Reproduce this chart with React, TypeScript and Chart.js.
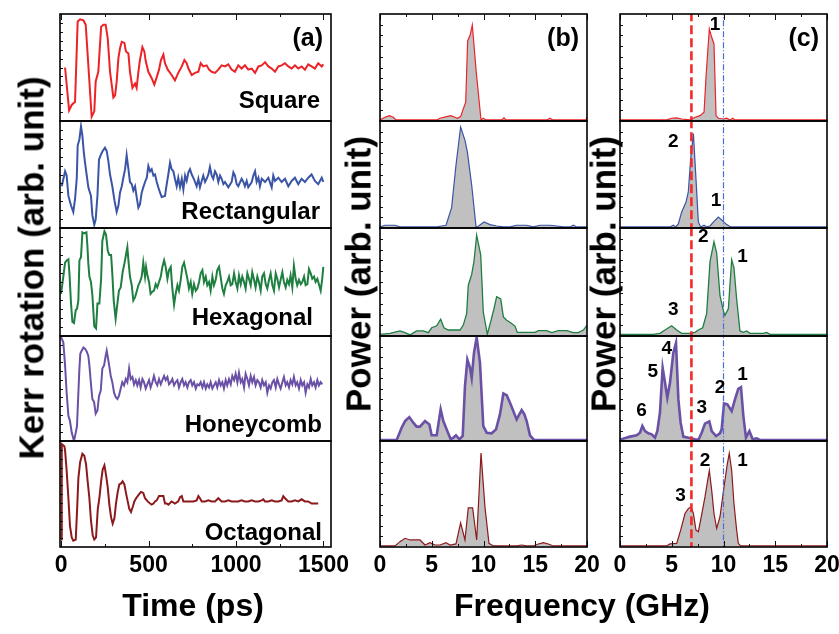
import React, { useEffect, useRef } from "react";
import { Chart, registerables } from "chart.js";
Chart.register(...registerables);

type Pt = [number, number];
const FONT = '"Liberation Sans", Arial, Helvetica, sans-serif';

// ---------- time-domain traces (ps, arb. unit) ----------
const squareTrace: Pt[] = [[23,50],[46,10],[61,15],[80,18],[95,93],[109,95],[128,94],[141,90],[175,4],[190,9],[198,37],[213,46],[229,88],[242,90],[255,90],[267,77],[280,46],[299,22],[309,24],[318,37],[328,59],[337,68],[347,74],[362,73],[371,65],[385,63],[394,46],[408,31],[423,35],[432,31],[442,46],[451,57],[465,69],[476,65],[484,56],[499,46],[518,40],[533,34],[547,41],[560,48],[571,57],[585,62],[594,54],[610,48],[632,43],[651,38],[670,45],[690,51],[705,57],[718,54],[728,49],[747,43],[766,45],[785,46],[798,54],[813,51],[832,52],[846,48],[861,46],[880,45],[899,48],[918,52],[937,51],[956,53],[975,48],[994,46],[1013,52],[1032,49],[1051,52],[1070,48],[1090,49],[1109,45],[1128,51],[1147,52],[1166,55],[1185,51],[1204,49],[1223,46],[1242,51],[1261,52],[1280,54],[1299,51],[1318,49],[1337,52],[1356,49],[1375,51],[1394,48],[1413,53],[1432,51],[1451,49],[1470,54],[1490,51],[1499,53]];
const rectTrace: Pt[] = [[4,39],[23,53],[32,49],[42,30],[57,21],[70,15],[80,27],[90,47],[95,77],[105,83],[114,95],[122,86],[130,71],[137,61],[147,49],[156,38],[171,30],[179,12],[190,3],[198,8],[208,30],[217,64],[229,69],[238,72],[251,75],[261,72],[270,63],[280,50],[293,39],[305,26],[318,15],[328,21],[337,33],[347,39],[356,47],[366,55],[375,68],[385,55],[394,43],[404,41],[413,35],[423,39],[432,29],[442,19],[451,22],[461,33],[470,38],[480,43],[490,47],[499,58],[509,53],[518,55],[528,49],[537,50],[547,43],[556,38],[566,33],[575,29],[594,30],[604,41],[613,50],[623,61],[632,55],[642,53],[651,46],[661,39],[670,47],[680,38],[690,46],[699,36],[709,49],[718,44],[728,52],[737,55],[747,50],[756,47],[766,43],[775,39],[785,46],[794,38],[804,44],[813,49],[823,43],[832,46],[842,50],[851,57],[861,49],[870,46],[880,53],[890,50],[899,43],[909,49],[918,46],[928,41],[937,43],[956,38],[975,43],[985,52],[994,49],[1004,41],[1013,39],[1032,46],[1042,43],[1051,39],[1061,44],[1070,38],[1090,43],[1099,49],[1109,53],[1118,43],[1128,47],[1137,39],[1147,46],[1166,43],[1185,47],[1204,38],[1213,49],[1223,44],[1242,47],[1261,43],[1280,46],[1299,39],[1318,44],[1337,47],[1356,41],[1375,46],[1394,43],[1413,47],[1432,50],[1451,44],[1470,41],[1490,47],[1499,43]];
const hexTrace: Pt[] = [[0,39],[13,55],[23,68],[32,70],[42,71],[48,58],[57,30],[65,13],[74,12],[84,24],[91,25],[99,33],[105,70],[114,73],[122,96],[133,95],[145,96],[150,85],[156,67],[162,55],[171,50],[179,38],[190,9],[200,7],[208,30],[219,30],[229,53],[236,88],[248,97],[257,94],[267,79],[276,75],[286,75],[293,58],[301,33],[312,16],[322,30],[331,42],[341,45],[352,59],[362,67],[371,75],[379,82],[385,70],[394,55],[404,47],[413,33],[423,36],[432,41],[442,47],[451,50],[461,55],[470,68],[480,55],[486,64],[495,55],[503,50],[512,39],[522,41],[531,42],[541,48],[550,45],[560,50],[570,55],[579,64],[589,70],[598,64],[608,53],[617,61],[627,64],[636,44],[646,29],[655,39],[665,47],[674,42],[684,52],[693,64],[703,68],[712,61],[722,53],[731,44],[741,50],[750,39],[760,48],[770,42],[779,44],[789,50],[798,58],[808,61],[817,50],[827,55],[836,47],[846,50],[855,42],[865,55],[874,47],[884,52],[893,61],[903,64],[912,55],[922,44],[931,39],[941,47],[950,50],[960,55],[970,47],[979,48],[989,58],[998,50],[1008,44],[1017,56],[1027,48],[1036,55],[1046,50],[1055,44],[1065,58],[1074,53],[1084,47],[1093,59],[1103,52],[1112,45],[1122,55],[1131,50],[1141,42],[1150,55],[1160,58],[1170,48],[1179,44],[1189,52],[1198,58],[1208,47],[1217,42],[1227,58],[1236,53],[1246,45],[1255,52],[1265,59],[1274,50],[1284,45],[1293,52],[1303,48],[1312,56],[1322,45],[1331,65],[1341,53],[1350,47],[1360,52],[1370,48],[1379,50],[1389,55],[1398,47],[1408,48],[1417,62],[1427,58],[1436,53],[1446,55],[1455,50],[1465,53],[1474,48],[1484,42],[1493,53],[1499,64]];
const honeyTrace: Pt[] = [[0,99],[13,94],[23,72],[32,46],[42,24],[51,19],[61,8],[74,0],[84,8],[91,14],[99,46],[105,69],[110,83],[118,86],[128,89],[137,88],[147,85],[156,81],[162,72],[170,56],[179,40],[189,37],[198,26],[208,29],[217,43],[227,48],[236,69],[246,72],[255,81],[261,86],[267,80],[274,73],[284,62],[293,56],[303,46],[312,42],[322,40],[331,43],[341,50],[350,56],[360,53],[370,59],[379,56],[389,69],[398,59],[408,61],[417,54],[427,58],[436,53],[446,58],[455,51],[465,59],[474,56],[484,50],[493,54],[503,58],[512,51],[522,56],[531,62],[541,56],[550,53],[560,59],[570,54],[579,58],[589,62],[598,58],[608,61],[617,54],[627,56],[636,59],[646,53],[655,56],[665,58],[674,51],[684,56],[693,59],[703,53],[712,56],[722,51],[731,56],[741,58],[750,53],[760,56],[770,50],[779,54],[789,53],[798,56],[808,51],[817,56],[827,50],[836,54],[846,51],[855,56],[865,50],[874,53],[884,56],[893,51],[903,58],[912,53],[922,56],[931,50],[941,58],[950,53],[960,59],[970,54],[979,62],[989,58],[998,64],[1008,56],[1017,65],[1027,56],[1036,59],[1046,51],[1055,64],[1065,59],[1074,53],[1084,62],[1093,56],[1103,61],[1112,53],[1122,58],[1131,56],[1141,51],[1150,58],[1160,53],[1170,56],[1179,46],[1189,53],[1198,50],[1208,56],[1217,58],[1227,51],[1236,59],[1246,54],[1255,50],[1265,56],[1274,61],[1284,53],[1293,56],[1303,51],[1312,58],[1322,54],[1331,61],[1341,53],[1350,56],[1360,50],[1370,58],[1379,53],[1389,56],[1398,46],[1408,54],[1417,51],[1427,59],[1436,53],[1446,56],[1455,51],[1465,58],[1474,53],[1484,56],[1493,54]];
const octTrace: Pt[] = [[0,7],[4,97],[19,95],[23,91],[32,72],[42,46],[51,20],[61,9],[70,6],[84,7],[93,40],[99,65],[109,80],[122,88],[133,86],[143,78],[152,62],[162,46],[171,25],[181,11],[190,7],[200,9],[210,36],[219,46],[229,62],[238,73],[248,77],[257,68],[267,56],[276,40],[286,28],[295,22],[305,27],[314,41],[324,52],[333,59],[343,60],[352,62],[362,59],[371,51],[381,43],[390,36],[400,33],[410,38],[419,43],[429,46],[442,49],[457,52],[470,51],[480,46],[495,43],[509,41],[518,40],[528,41],[537,43],[547,44],[560,48],[571,48],[585,48],[594,41],[604,41],[613,40],[632,43],[651,41],[670,43],[680,47],[690,48],[699,43],[718,43],[737,43],[756,43],[775,44],[785,48],[794,46],[804,43],[823,43],[842,44],[861,43],[880,43],[899,46],[918,43],[937,43],[956,44],[975,43],[994,43],[1013,43],[1032,44],[1051,43],[1070,43],[1090,44],[1109,43],[1128,43],[1147,44],[1156,45],[1166,43],[1185,43],[1204,44],[1223,43],[1242,43],[1261,44],[1270,48],[1280,46],[1299,43],[1318,43],[1337,44],[1356,43],[1375,45],[1394,43],[1413,43],[1432,41],[1451,41],[1470,41]];

// ---------- spectra (b) (GHz, arb. unit) ----------
const bSquare: Pt[] = [[0,0],[0.48,2.5],[0.9,4.1],[1.29,2.5],[1.55,0],[5.48,0],[5.8,1.6],[6.44,3.1],[6.83,4.1],[7.25,2.5],[7.47,1.6],[7.79,3.1],[7.99,8.8],[8.28,16.7],[8.47,74.8],[8.7,79.6],[8.92,89.6],[9.3,45],[9.76,0],[9.98,1.6],[10.24,0],[11.76,0],[11.98,1.9],[12.17,0],[16.1,0],[16.43,1.6],[16.68,0],[19.9,0],[20,2.5]];
const bRect: Pt[] = [[0,0],[0.48,1.6],[0.97,1.6],[1.45,1.6],[1.93,0],[5.48,0],[5.96,0.9],[6.38,1.6],[6.92,18.2],[7.34,58.2],[7.79,94.3],[8.21,81.8],[8.44,70.8],[8.86,39.3],[9.28,0],[9.4,0],[10.05,4.7],[10.63,2.2],[11.27,0.9],[11.92,0],[12.56,0],[13.2,1.6],[14.17,1.6],[14.81,0],[15.46,1.6],[16.43,1.6],[17.07,0.9],[17.71,0],[18.36,0],[18.68,1.6],[19.0,0],[20,0]];
const bHex: Pt[] = [[0,0.6],[0.97,1.5],[1.93,3.7],[2.42,2.1],[2.9,0],[3.54,3.7],[4.19,3.7],[4.67,2.1],[4.99,6.7],[5.48,8.6],[5.86,14.7],[6.18,6.7],[6.6,4.6],[7.09,4.6],[7.73,4.6],[8.05,9.2],[8.37,19.9],[8.53,46.5],[8.86,56.6],[9.08,68.8],[9.34,93.3],[9.73,74.9],[9.98,21.4],[10.37,0.6],[10.69,12.2],[11.01,24.5],[11.27,35.8],[11.66,33.6],[11.92,16.8],[12.24,13.8],[12.72,10.7],[13.04,8.3],[13.27,2.4],[14.17,2.4],[14.98,2.4],[15.3,4.0],[16.1,4.0],[16.59,2.1],[17.23,4.0],[18.04,4.0],[18.68,2.1],[19.16,2.1],[19.65,4.6],[20,9.2]];
const bHoney: Pt[] = [[0,0],[1.61,0],[2.09,11.8],[2.42,18.2],[2.83,22],[3.22,16.6],[3.54,12.8],[3.86,12.8],[4.35,18.2],[4.77,15],[4.99,4.5],[5.48,4.5],[5.86,29.4],[6.12,18.2],[6.44,10.2],[6.83,0.6],[7.09,2.2],[7.34,4.5],[7.67,0.6],[7.99,3.8],[8.21,51.8],[8.44,77.3],[8.7,69.3],[8.86,59.7],[9.08,83.7],[9.34,98.7],[9.66,74.1],[9.98,13.4],[10.31,7],[10.79,6.4],[11.21,10.2],[11.59,24.6],[11.92,44.7],[12.24,43.1],[12.56,35.8],[12.88,27.8],[13.2,19.8],[13.46,24.6],[13.69,28.8],[13.95,24.6],[14.17,18.2],[14.49,4.5],[14.88,0],[20,0]];
const bOct: Pt[] = [[0,0],[1.45,0],[1.93,4.1],[2.42,7.3],[2.9,5.7],[3.86,5.7],[4.35,0.9],[4.83,3.2],[5.31,0.9],[5.8,0.9],[6.38,3.2],[6.76,0.9],[7.34,1.9],[7.79,22.1],[8.21,5.7],[8.53,36.3],[8.95,36.3],[9.34,5.7],[9.76,88.6],[10.14,37.2],[10.53,2.5],[10.95,0],[13.2,0],[13.69,0.9],[14.17,0],[14.81,0],[15.3,1.9],[15.78,3.2],[16.26,1.9],[16.75,0],[20,0]];

// ---------- spectra (c) ----------
const cSquare: Pt[] = [[0,0],[4.51,0],[4.99,1.6],[5.48,1.9],[5.96,0.9],[6.76,0],[7.25,2.5],[7.73,4.1],[8.12,7.2],[8.31,40.3],[8.44,59.1],[8.63,85.8],[8.86,78],[9.08,71.7],[9.28,4.1],[9.5,1.6],[9.98,0.9],[10.31,1.6],[10.63,0],[10.89,1.6],[11.11,0],[20,0]];
const cRect: Pt[] = [[0,0],[4.83,0],[5.15,1.6],[5.41,0],[5.64,3.1],[5.96,14.2],[6.38,23.6],[6.6,33],[6.83,64.5],[7.09,88.1],[7.34,45.6],[7.57,4.7],[7.79,0],[8.12,1.6],[8.37,0],[8.7,0.9],[9.08,5.3],[9.5,9.4],[9.98,5.3],[10.31,2.2],[10.69,0],[20,0]];
const cHex: Pt[] = [[0,0.6],[3.22,0.6],[3.86,1.5],[4.35,4.6],[4.99,8.6],[5.48,4.6],[5.96,1.5],[6.76,1.5],[7.25,2.4],[7.57,4.6],[7.99,6.7],[8.37,19.9],[8.7,68.8],[9.08,87.2],[9.34,76.5],[9.66,36.7],[9.98,22.9],[10.14,18.3],[10.47,24.5],[10.79,70.3],[11.01,62.7],[11.27,33.6],[11.59,3.7],[11.92,2.4],[12.24,3.7],[12.56,1.5],[13.2,1.5],[13.85,1.5],[14.17,2.4],[14.49,0.6],[20,0.6]];
const cHoney: Pt[] = [[0,0],[0.32,1.3],[0.97,3.2],[1.61,4.5],[1.93,7],[2.16,13.4],[2.42,8.6],[2.74,6.4],[3.06,5.4],[3.38,2.2],[3.61,8.6],[3.86,26.2],[4.12,69.3],[4.35,55],[4.57,40.6],[4.83,55],[5.15,83.7],[5.41,93.3],[5.64,39],[5.86,16.6],[6.12,3.2],[6.6,2.2],[6.92,1.3],[7.25,0.6],[7.57,0],[7.89,7],[8.21,15.7],[8.63,17.9],[8.86,8.6],[9.28,3.8],[9.66,6.4],[9.82,10.2],[10.05,35.1],[10.37,34.2],[10.79,27.8],[11.11,39],[11.43,49.2],[11.69,50.8],[11.92,23],[12.17,2.2],[12.5,8.6],[12.82,0.6],[13.2,1.6],[13.53,0],[20,0]];
const cOct: Pt[] = [[0,0],[4.51,0],[4.83,1.9],[5.48,2.5],[5.86,15.1],[6.28,30.9],[6.6,35.6],[6.86,37.2],[7.09,30.9],[7.34,15.1],[7.57,13.6],[7.79,24.6],[8.21,46.7],[8.63,71.9],[8.86,53],[9.08,30.9],[9.34,16.7],[9.66,27.8],[10.05,56.2],[10.37,78.2],[10.56,88.3],[10.79,71.9],[11.01,40.4],[11.27,15.1],[11.43,2.5],[11.66,0],[20,0]];

// peak labels (c): [text, GHz, arb]
const cSquareLabels: [string, number, number][] = [["1", 9.18, 90]];
const cRectLabels: [string, number, number][] = [["2", 5.15, 80], ["1", 9.28, 25]];
const cHexLabels: [string, number, number][] = [["2", 8.05, 92], ["1", 11.85, 73], ["3", 5.15, 24]];
const cHoneyLabels: [string, number, number][] = [["6", 2.09, 28], ["5", 3.16, 66], ["4", 4.51, 88], ["3", 7.89, 31], ["2", 9.66, 50], ["1", 11.85, 63]];
const cOctLabels: [string, number, number][] = [["3", 5.86, 48], ["2", 8.21, 81], ["1", 11.85, 81]];

const sampleNames = ["Square", "Rectangular", "Hexagonal", "Honeycomb", "Octagonal"];
const timeTicks = [0, 500, 1000, 1500];
const timeMinor = [250, 750, 1250];
const freqTicks = [0, 5, 10, 15, 20];
const freqMinor = [2.5, 7.5, 12.5, 17.5];
const redLineGHz = 6.9;
const blueLineGHz = 10;

// ---------- styling / layout ----------
const traceColors = ["#ec2327", "#3a55a6", "#1e7f40", "#6a51a6", "#8c1a1d"];
const specWidths = [1.2, 1.2, 1.3, 2.6, 1.2];
const FILL = "#c0c0c0";
const COLS = [
  { left: 60, right: 331, min: -6, max: 1543 },
  { left: 380, right: 587, min: 0, max: 20 },
  { left: 620, right: 827, min: 0, max: 20 },
];
const ROWS = [14, 121, 228, 336, 441, 547];
const PAD_L = 30, PAD_R = 30, PAD_T = 3, PAD_B = 3, AXIS_H = 40;
const nameOffsets = [[11, 13], [11, 9], [18, 11], [9, 9], [9, 7]];

const toXY = (a: Pt[]) => a.map(([x, y]) => ({ x, y }));

const panelDecor = {
  id: "panelDecor",
  afterDatasetsDraw(chart: any, _args: any, o: any) {
    const { ctx, chartArea: a, scales } = chart;
    const xs = scales.x, ys = scales.y;
    ctx.save();
    ctx.strokeStyle = "#111";
    ctx.lineWidth = 1;
    const n = o.yTicks;
    for (let i = 1; i < n; i++) {
      const yy = Math.round(a.bottom - ((a.bottom - a.top) * i) / n) + 0.5;
      ctx.beginPath(); ctx.moveTo(a.left, yy); ctx.lineTo(a.left + 3, yy); ctx.stroke();
    }
    const drawX = (vals: number[], len: number) => {
      for (const v of vals) {
        const px = Math.round(xs.getPixelForValue(v)) + 0.5;
        if (o.bottomTicks) { ctx.beginPath(); ctx.moveTo(px, a.bottom); ctx.lineTo(px, a.bottom - len); ctx.stroke(); }
        if (o.topTicks) { ctx.beginPath(); ctx.moveTo(px, a.top); ctx.lineTo(px, a.top + len); ctx.stroke(); }
      }
    };
    drawX(o.major, 6);
    drawX(o.minor, 3);
    ctx.lineWidth = 1.6;
    ctx.strokeStyle = "#000";
    ctx.strokeRect(a.left, a.top, a.right - a.left, a.bottom - a.top);
    ctx.fillStyle = "#000";
    ctx.font = `bold 19px ${FONT}`;
    ctx.textAlign = "center";
    ctx.textBaseline = "middle";
    for (const l of o.peaks) ctx.fillText(l[0], xs.getPixelForValue(l[1]), ys.getPixelForValue(l[2]));
    if (o.name) {
      ctx.font = `bold 24px ${FONT}`;
      ctx.textAlign = "right";
      ctx.textBaseline = "alphabetic";
      ctx.fillText(o.name, a.right - o.nameDx, a.bottom - o.nameDy);
    }
    if (o.tag) {
      ctx.font = `bold 25px ${FONT}`;
      ctx.textAlign = "right";
      ctx.textBaseline = "alphabetic";
      ctx.fillText(o.tag, a.right - 8, a.top + 32);
    }
    ctx.restore();
  },
};

function Panel({ col, row }: { col: number; row: number }) {
  const ref = useRef<HTMLCanvasElement>(null);
  const c = COLS[col];
  const top = ROWS[row], bottom = ROWS[row + 1];
  const isBottom = row === 4;
  const w = c.right - c.left + PAD_L + PAD_R;
  const h = bottom - top + PAD_T + PAD_B + (isBottom ? AXIS_H : 0);

  useEffect(() => {
    const color = traceColors[row];
    let datasets: any[] = [];
    let peaks: [string, number, number][] = [];
    if (col === 0) {
      const tr = [squareTrace, rectTrace, hexTrace, honeyTrace, octTrace][row];
      datasets = [{ data: toXY(tr), borderColor: color, borderWidth: 2, pointRadius: 0, fill: false, tension: 0 }];
    } else {
      const spec = col === 1 ? [bSquare, bRect, bHex, bHoney, bOct][row] : [cSquare, cRect, cHex, cHoney, cOct][row];
      if (col === 2) {
        peaks = [cSquareLabels, cRectLabels, cHexLabels, cHoneyLabels, cOctLabels][row];
        datasets.push({ data: [{ x: redLineGHz, y: -5 }, { x: redLineGHz, y: 105 }], borderColor: "#f42a2a", borderWidth: 2.6, borderDash: [9, 4], pointRadius: 0, fill: false });
        datasets.push({ data: [{ x: blueLineGHz, y: -5 }, { x: blueLineGHz, y: 105 }], borderColor: "#4a6ed8", borderWidth: 1.2, borderDash: [6, 2, 1, 2], pointRadius: 0, fill: false });
      }
      datasets.push({ data: toXY(spec), borderColor: color, borderWidth: specWidths[row], pointRadius: 0, fill: { value: 0 }, backgroundColor: FILL, tension: 0 });
    }
    const tickVals = col === 0 ? timeTicks : freqTicks;
    const chart = new Chart(ref.current as HTMLCanvasElement, {
      type: "line",
      data: { datasets },
      options: {
        responsive: false,
        animation: false,
        devicePixelRatio: 1,
        events: [],
        layout: { padding: { left: PAD_L, right: PAD_R, top: PAD_T, bottom: PAD_B } },
        plugins: {
          legend: { display: false },
          tooltip: { enabled: false },
          panelDecor: {
            yTicks: col === 0 ? 12 : 10,
            topTicks: row === 0,
            bottomTicks: row === 4,
            major: tickVals,
            minor: col === 0 ? timeMinor : freqMinor,
            peaks,
            name: col === 0 ? sampleNames[row] : "",
            nameDx: nameOffsets[row][0],
            nameDy: nameOffsets[row][1],
            tag: row === 0 ? ["(a)", "(b)", "(c)"][col] : "",
          },
        } as any,
        scales: {
          x: {
            type: "linear",
            min: c.min,
            max: c.max,
            display: isBottom,
            position: "bottom",
            grid: { display: false, drawTicks: false },
            border: { display: false },
            ticks: {
              font: { family: FONT, size: 23, weight: "bold" },
              color: "#000",
              padding: 5,
              autoSkip: false,
              maxRotation: 0,
              callback: (v: any) => String(v),
            },
            afterBuildTicks: (s: any) => { s.ticks = tickVals.map((v) => ({ value: v })); },
            afterFit: (s: any) => { s.height = isBottom ? AXIS_H : 0; s.paddingLeft = 0; s.paddingRight = 0; s.paddingTop = 0; s.paddingBottom = 0; },
          },
          y: { type: "linear", display: false, min: col === 0 ? 0 : -1, max: 100 },
        },
      } as any,
      plugins: [panelDecor as any],
    });
    return () => chart.destroy();
  }, []);

  return (
    <canvas
      ref={ref}
      width={w}
      height={h}
      style={{ position: "absolute", left: c.left - PAD_L, top: top - PAD_T, width: w, height: h }}
    />
  );
}

const titleStyle: React.CSSProperties = {
  position: "absolute",
  fontFamily: FONT,
  fontWeight: "bold",
  whiteSpace: "nowrap",
  lineHeight: 1,
  color: "#000",
};

export default function App() {
  const panels: JSX.Element[] = [];
  for (let col = 0; col < 3; col++) for (let row = 0; row < 5; row++) panels.push(<Panel key={`${col}-${row}`} col={col} row={row} />);
  return (
    <div style={{ position: "fixed", left: 0, top: 0, width: 839, height: 634, background: "#fff", overflow: "hidden" }}>
      {panels}
      <div style={{ ...titleStyle, left: 31, top: 268, fontSize: 35, transform: "translate(-50%, -50%) rotate(-90deg)" }}>Kerr rotation (arb. unit)</div>
      <div style={{ ...titleStyle, left: 358, top: 274, fontSize: 35, transform: "translate(-50%, -50%) rotate(-90deg)" }}>Power (arb. unit)</div>
      <div style={{ ...titleStyle, left: 603, top: 274, fontSize: 35, transform: "translate(-50%, -50%) rotate(-90deg)" }}>Power (arb. unit)</div>
      <div style={{ ...titleStyle, left: 193, top: 605, fontSize: 32, transform: "translate(-50%, -50%)" }}>Time (ps)</div>
      <div style={{ ...titleStyle, left: 582, top: 605, fontSize: 32, transform: "translate(-50%, -50%)" }}>Frequency (GHz)</div>
    </div>
  );
}
